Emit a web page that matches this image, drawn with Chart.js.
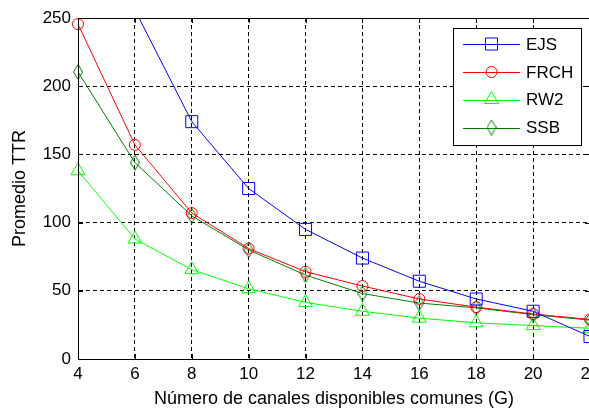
<!DOCTYPE html>
<html>
<head>
<meta charset="utf-8">
<script src="https://cdn.jsdelivr.net/npm/chart.js@4"></script>
<style>
  html, body { margin: 0; padding: 0; background: #fff; overflow: hidden; }
  #wrap { width: 620px; height: 412px; }
</style>
</head>
<body>
<div id="wrap"><canvas id="chart" width="620" height="412" style="width:620px;height:412px"></canvas></div>
<script>
// Datos
const canales = [4, 6, 8, 10, 12, 14, 16, 18, 20, 22];
const ejs  = [390, 256, 174, 125, 95, 74, 57, 44, 35, 16.5];
const frch = [245.5, 157, 107, 81, 64, 53.5, 44, 38, 33, 29];
const rw2  = [138, 88, 65.5, 51.5, 41.5, 35, 30, 26.5, 24.5, 22.5];
const ssb  = [210.5, 144, 105, 80, 61.5, 48, 41, 37.5, 32.5, 28.5];
const xTicks = [4, 6, 8, 10, 12, 14, 16, 18, 20, 22];
const yTicks = [0, 50, 100, 150, 200, 250];

const FONT = "'Liberation Sans', Arial, Helvetica, sans-serif";

// rombo estrecho como el de MATLAB
function makeDiamond(color) {
  const c = document.createElement('canvas');
  c.width = 10; c.height = 16;
  const g = c.getContext('2d');
  g.strokeStyle = color; g.lineWidth = 1;
  g.beginPath();
  g.moveTo(5, 0.5); g.lineTo(9.5, 8); g.lineTo(5, 15.5); g.lineTo(0.5, 8);
  g.closePath(); g.stroke();
  return c;
}

function serie(label, values, color, style, radius, clip) {
  return {
    label: label,
    data: values.map((v, i) => ({ x: canales[i], y: v })),
    borderColor: color,
    borderWidth: 1,
    pointStyle: style,
    pointRadius: radius,
    pointBorderColor: color,
    pointBackgroundColor: 'rgba(0,0,0,0)',
    pointBorderWidth: 1,
    tension: 0,
    fill: false,
    clip: clip
  };
}

function drawMarker(ctx, ds, x, y) {
  const st = ds.pointStyle, r = ds.pointRadius;
  ctx.save();
  ctx.strokeStyle = ds.pointBorderColor;
  ctx.lineWidth = 1;
  if (st instanceof HTMLCanvasElement) {
    ctx.drawImage(st, x - st.width / 2, y - st.height / 2);
    ctx.restore();
    return;
  }
  ctx.beginPath();
  if (st === 'rect') {
    const s = r * Math.SQRT1_2;
    ctx.rect(x - s, y - s, 2 * s, 2 * s);
  } else if (st === 'circle') {
    ctx.arc(x, y, r, 0, Math.PI * 2);
  } else if (st === 'triangle') {
    for (let k = 0; k < 3; k++) {
      const a = k * 2 * Math.PI / 3;
      const px = x + Math.sin(a) * r, py = y - Math.cos(a) * r;
      if (k === 0) ctx.moveTo(px, py); else ctx.lineTo(px, py);
    }
    ctx.closePath();
  }
  ctx.stroke();
  ctx.restore();
}

// caja de ejes, marcas hacia dentro y leyenda
const matlabBox = {
  id: 'matlabBox',
  afterDraw(chart) {
    const ctx = chart.ctx;
    const a = chart.chartArea;
    const xs = chart.scales.x, ys = chart.scales.y;
    ctx.save();
    ctx.strokeStyle = '#000';
    ctx.lineWidth = 1;
    ctx.setLineDash([]);
    ctx.beginPath();
    ctx.rect(Math.round(a.left) + 0.5, Math.round(a.top) + 0.5,
             Math.round(a.right - a.left), Math.round(a.bottom - a.top));
    xTicks.forEach(v => {
      const px = Math.round(xs.getPixelForValue(v)) + 0.5;
      ctx.moveTo(px, a.bottom); ctx.lineTo(px, a.bottom - 5);
      ctx.moveTo(px, a.top); ctx.lineTo(px, a.top + 5);
    });
    yTicks.forEach(v => {
      const py = Math.round(ys.getPixelForValue(v)) + 0.5;
      ctx.moveTo(a.left, py); ctx.lineTo(a.left + 5, py);
      ctx.moveTo(a.right, py); ctx.lineTo(a.right - 5, py);
    });
    ctx.stroke();

    // leyenda
    const bx = 453.5, by = 28.5, bw = 128, bh = 117;
    ctx.fillStyle = '#fff';
    ctx.fillRect(bx, by, bw, bh);
    ctx.strokeRect(bx, by, bw, bh);
    const rows = [44, 72, 99.5, 127.5];
    ctx.font = '17px ' + FONT;
    ctx.textBaseline = 'middle';
    chart.data.datasets.forEach((ds, i) => {
      const y = rows[i];
      ctx.strokeStyle = ds.borderColor;
      ctx.beginPath();
      ctx.moveTo(463, Math.round(y) + 0.5);
      ctx.lineTo(520, Math.round(y) + 0.5);
      ctx.stroke();
      drawMarker(ctx, ds, 491.5, y);
      ctx.fillStyle = '#000';
      ctx.fillText(ds.label, 526, y + 1);
    });
    ctx.restore();
  }
};

const noClip = false;
const topClip = { left: 12, right: 12, top: 0, bottom: 12 };

new Chart(document.getElementById('chart'), {
  type: 'line',
  data: {
    datasets: [
      serie('EJS', ejs, '#0000ff', 'rect', 8.5, topClip),
      serie('FRCH', frch, '#ff0000', 'circle', 5.5, noClip),
      serie('RW2', rw2, '#00ff00', 'triangle', 8, noClip),
      serie('SSB', ssb, '#008000', makeDiamond('#008000'), 5, noClip)
    ]
  },
  options: {
    responsive: false,
    animation: false,
    layout: { padding: { top: 18, right: 30, left: 0, bottom: 0 } },
    plugins: { legend: { display: false }, tooltip: { enabled: false } },
    scales: {
      x: {
        type: 'linear', min: 4, max: 22,
        afterBuildTicks: s => { s.ticks = xTicks.map(v => ({ value: v })); },
        afterFit: s => { s.height = 53; },
        ticks: { color: '#000', font: { family: FONT, size: 17 }, padding: 5, maxRotation: 0, autoSkip: false },
        grid: { color: '#000', lineWidth: 1, drawTicks: false },
        border: { display: true, color: '#000', dash: [4, 3] },
        title: {
          display: true, text: 'Número de canales disponibles comunes (G)',
          color: '#000', font: { family: FONT, size: 18 }, padding: { top: 0, bottom: 2 }
        }
      },
      y: {
        min: 0, max: 250,
        afterBuildTicks: s => { s.ticks = yTicks.map(v => ({ value: v })); },
        afterFit: s => { s.width = 78; },
        ticks: { color: '#000', font: { family: FONT, size: 17 }, padding: 7, autoSkip: false },
        grid: { color: '#000', lineWidth: 1, drawTicks: false },
        border: { display: true, color: '#000', dash: [4, 3] },
        title: {
          display: true, text: 'Promedio TTR',
          color: '#000', font: { family: FONT, size: 18 }, padding: { top: 9, bottom: 0 }
        }
      }
    }
  },
  plugins: [matlabBox]
});
</script>
</body>
</html>
